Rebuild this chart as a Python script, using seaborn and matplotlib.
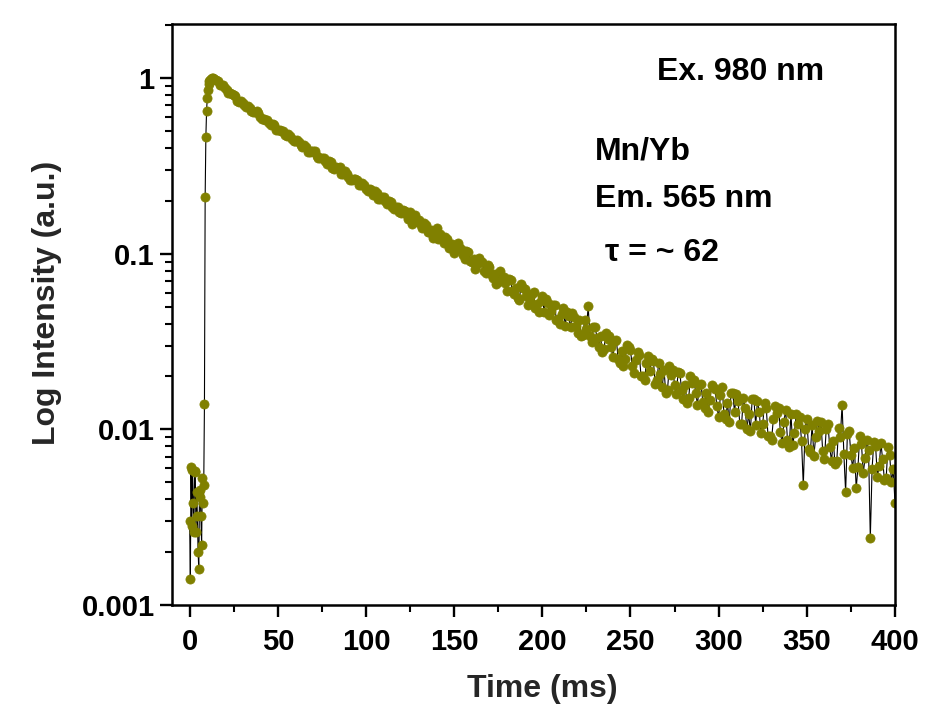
import matplotlib
matplotlib.use("Agg")
import matplotlib.pyplot as plt
import matplotlib.ticker as mticker
import numpy as np
import pandas as pd
import seaborn as sns

# ---- data (time in ms, normalised intensity) ----
rise_time = [0.0, 0.4, 0.8, 1.2, 1.6, 2.0, 2.4, 2.8, 3.2, 3.6, 4.0, 4.4, 4.8, 5.2,
             5.6, 6.0, 6.4, 6.8, 7.2, 7.6, 8.0, 8.4, 8.8, 9.2, 9.6, 10.0, 10.4,
             10.8, 11.2, 11.6, 12.0, 12.4, 13.0]
rise_intensity = [0.0030, 0.0014, 0.0061, 0.0028, 0.0059, 0.0038, 0.0026, 0.0058,
                  0.0057, 0.0026, 0.0044, 0.0032, 0.0020, 0.0016, 0.0045, 0.0041,
                  0.0032, 0.0022, 0.0053, 0.0038, 0.0048, 0.0139, 0.21, 0.46, 0.65,
                  0.77, 0.86, 0.92, 0.96, 0.98, 0.99, 1.0, 1.0]

# samples at even milliseconds, 14 ... 400 ms
even_time = [14, 16, 18, 20, 22, 24, 26, 28, 30, 32, 34, 36, 38, 40, 42, 44, 46, 48,
             50, 52, 54, 56, 58, 60, 62, 64, 66, 68, 70, 72, 74, 76, 78, 80, 82, 84,
             86, 88, 90, 92, 94, 96, 98, 100, 102, 104, 106, 108, 110, 112, 114, 116,
             118, 120, 122, 124, 126, 128, 130, 132, 134, 136, 138, 140, 142, 144,
             146, 148, 150, 152, 154, 156, 158, 160, 162, 164, 166, 168, 170, 172,
             174, 176, 178, 180, 182, 184, 186, 188, 190, 192, 194, 196, 198, 200,
             202, 204, 206, 208, 210, 212, 214, 216, 218, 220, 222, 224, 226, 228,
             230, 232, 234, 236, 238, 240, 242, 244, 246, 248, 250, 252, 254, 256,
             258, 260, 262, 264, 266, 268, 270, 272, 274, 276, 278, 280, 282, 284,
             286, 288, 290, 292, 294, 296, 298, 300, 302, 304, 306, 308, 310, 312,
             314, 316, 318, 320, 322, 324, 326, 328, 330, 332, 334, 336, 338, 340,
             342, 344, 346, 348, 350, 352, 354, 356, 358, 360, 362, 364, 366, 368,
             370, 372, 374, 376, 378, 380, 382, 384, 386, 388, 390, 392, 394, 396,
             398, 400]
even_intensity = [
    0.99, 0.96, 0.912, 0.881, 0.822, 0.813, 0.794, 0.733, 0.724, 0.684,
    0.676, 0.638, 0.646, 0.596, 0.582, 0.575, 0.537, 0.537, 0.507, 0.501,
    0.473, 0.479, 0.447, 0.437, 0.432, 0.403, 0.407, 0.380, 0.385, 0.359,
    0.351, 0.351, 0.324, 0.331, 0.305, 0.309, 0.285, 0.295, 0.272, 0.263,
    0.266, 0.245, 0.251, 0.232, 0.234, 0.216, 0.221, 0.204, 0.209, 0.191,
    0.197, 0.180, 0.184, 0.170, 0.176, 0.158, 0.148, 0.166, 0.155, 0.140,
    0.146, 0.132, 0.123, 0.140, 0.129, 0.115, 0.122, 0.108, 0.101, 0.115,
    0.107, 0.0933, 0.102, 0.0891, 0.0822, 0.0944, 0.0891, 0.0776, 0.0841, 0.0724,
    0.0676, 0.0794, 0.0741, 0.0617, 0.0708, 0.0589, 0.0562, 0.0676, 0.0631, 0.0513,
    0.0589, 0.0490, 0.0468, 0.0575, 0.0550, 0.0447, 0.0513, 0.0417, 0.0398, 0.0490,
    0.0468, 0.0380, 0.0437, 0.0355, 0.0339, 0.0417, 0.0501, 0.0316, 0.0380, 0.0295,
    0.0275, 0.0355, 0.0339, 0.0257, 0.0324, 0.0240, 0.0229, 0.0302, 0.0282, 0.0209,
    0.0275, 0.0200, 0.0191, 0.0263, 0.0251, 0.0182, 0.0240, 0.0174, 0.0162, 0.0229,
    0.0219, 0.0158, 0.0209, 0.0148, 0.0141, 0.0200, 0.0191, 0.0138, 0.0182, 0.0132,
    0.0126, 0.0178, 0.0170, 0.0117, 0.0174, 0.0115, 0.0110, 0.0162, 0.0158, 0.0107,
    0.0151, 0.0100, 0.00977, 0.0148, 0.0145, 0.00955, 0.0141, 0.00912, 0.00871, 0.0135,
    0.0132, 0.00832, 0.0129, 0.00794, 0.00813, 0.0123, 0.0117, 0.00479, 0.0115, 0.00741,
    0.00708, 0.0112, 0.0110, 0.00676, 0.0107, 0.00661, 0.00631, 0.0102, 0.0138, 0.0044,
    0.00977, 0.00603, 0.00462, 0.00912, 0.00562, 0.00871, 0.0024, 0.00851, 0.00537, 0.00832,
    0.00513, 0.00794, 0.00501, 0.0038]

# samples at odd milliseconds, 15 ... 399 ms
odd_time = [15, 17, 19, 21, 23, 25, 27, 29, 31, 33, 35, 37, 39, 41, 43, 45, 47, 49,
            51, 53, 55, 57, 59, 61, 63, 65, 67, 69, 71, 73, 75, 77, 79, 81, 83, 85,
            87, 89, 91, 93, 95, 97, 99, 101, 103, 105, 107, 109, 111, 113, 115, 117,
            119, 121, 123, 125, 127, 129, 131, 133, 135, 137, 139, 141, 143, 145,
            147, 149, 151, 153, 155, 157, 159, 161, 163, 165, 167, 169, 171, 173,
            175, 177, 179, 181, 183, 185, 187, 189, 191, 193, 195, 197, 199, 201,
            203, 205, 207, 209, 211, 213, 215, 217, 219, 221, 223, 225, 227, 229,
            231, 233, 235, 237, 239, 241, 243, 245, 247, 249, 251, 253, 255, 257,
            259, 261, 263, 265, 267, 269, 271, 273, 275, 277, 279, 281, 283, 285,
            287, 289, 291, 293, 295, 297, 299, 301, 303, 305, 307, 309, 311, 313,
            315, 317, 319, 321, 323, 325, 327, 329, 331, 333, 335, 337, 339, 341,
            343, 345, 347, 349, 351, 353, 355, 357, 359, 361, 363, 365, 367, 369,
            371, 373, 375, 377, 379, 381, 383, 385, 387, 389, 391, 393, 395, 397,
            399]
odd_intensity = [
    0.968, 0.908, 0.910, 0.857, 0.818, 0.805, 0.740, 0.738, 0.702, 0.692,
    0.649, 0.637, 0.630, 0.585, 0.578, 0.552, 0.546, 0.509, 0.506, 0.502,
    0.469, 0.465, 0.439,
    0.446, 0.416, 0.415, 0.380, 0.384, 0.383, 0.352, 0.352, 0.337, 0.336,
    0.308, 0.311, 0.310, 0.285, 0.285, 0.264, 0.265, 0.262, 0.245, 0.245,
    0.228, 0.229, 0.227, 0.206, 0.209, 0.199, 0.200, 0.185, 0.184, 0.172,
    0.177, 0.165, 0.172, 0.151, 0.153, 0.145, 0.149, 0.132, 0.136, 0.135,
    0.122, 0.123, 0.125, 0.108, 0.114, 0.107, 0.109, 0.0984, 0.104, 0.0904,
    0.0931, 0.0871, 0.0891, 0.0800, 0.0859, 0.0771, 0.0762, 0.0693, 0.0729, 0.0682,
    0.0713, 0.0610, 0.0641, 0.0548, 0.0640, 0.0574, 0.0535, 0.0605, 0.0520, 0.0537,
    0.0467, 0.0521, 0.0473, 0.0511, 0.0423, 0.0452, 0.0388, 0.0440, 0.0459, 0.0385,
    0.0417, 0.0346, 0.0374, 0.0340, 0.0381, 0.0333, 0.0342, 0.0285, 0.0328, 0.0296,
    0.0320, 0.0251, 0.0281, 0.0251, 0.0295, 0.0229, 0.0247, 0.0265, 0.0200, 0.0238,
    0.0214, 0.0246, 0.0192, 0.0207, 0.0219, 0.0168, 0.0205, 0.0179, 0.0211, 0.0167,
    0.0179, 0.0150, 0.0184, 0.0161, 0.0179, 0.0143, 0.0162, 0.0147, 0.0175, 0.0135,
    0.0156, 0.0122, 0.0141, 0.0160, 0.0125, 0.0145, 0.0107, 0.0132, 0.0122, 0.0148,
    0.0106, 0.0126, 0.0107, 0.0133, 0.00918, 0.0114, 0.0124, 0.00966, 0.0110, 0.00875,
    0.0122, 0.00957, 0.0107, 0.00853, 0.0101, 0.00776, 0.0106, 0.00902, 0.00982, 0.00752,
    0.0101, 0.00789, 0.00861, 0.00661, 0.00906, 0.00724, 0.00946, 0.00719, 0.00780, 0.00610,
    0.00820, 0.00684, 0.00762, 0.00597, 0.00802, 0.00617, 0.00675, 0.00530, 0.00713, 0.00596]

y_ticks = [0.001, 0.01, 0.1, 1]
y_tick_labels = ["0.001", "0.01", "0.1", "1"]
x_ticks = [0, 50, 100, 150, 200, 250, 300, 350, 400]

annotations = ["Ex. 980 nm", "Mn/Yb", "Em. 565 nm", "\u03c4 = ~ 62"]

df = pd.DataFrame({
    "time": rise_time + even_time + odd_time,
    "intensity": rise_intensity + even_intensity + odd_intensity,
}).sort_values("time").reset_index(drop=True)

# ---- style ----
sns.set_style("ticks")
plt.rcParams["font.family"] = ["Liberation Sans", "DejaVu Sans"]
plt.rcParams["font.weight"] = "bold"

OLIVE = "#808000"

fig = plt.figure(figsize=(9.31, 7.13), dpi=100)
ax = fig.add_axes([172 / 931, 108 / 713, 723 / 931, 581 / 713])

sns.lineplot(data=df, x="time", y="intensity", ax=ax, sort=False,
             color="black", linewidth=0.8, marker="o", markersize=6.6,
             markerfacecolor=OLIVE, markeredgecolor=OLIVE, markeredgewidth=0.5,
             estimator=None)

ax.set_yscale("log")
ax.set_xlim(-10, 400)
ax.set_ylim(0.001, 2.03)

ax.set_xticks(x_ticks)
ax.set_xticklabels([str(v) for v in x_ticks])
ax.xaxis.set_minor_locator(mticker.MultipleLocator(25))
ax.set_yticks(y_ticks)
ax.set_yticklabels(y_tick_labels)
ax.yaxis.set_minor_locator(mticker.LogLocator(base=10, subs=np.arange(2, 10)))
ax.yaxis.set_minor_formatter(mticker.NullFormatter())

for s in ax.spines.values():
    s.set_linewidth(1.8)
    s.set_color("black")

ax.tick_params(axis="both", which="major", direction="out", length=8.5, width=1.7,
               colors="black", top=False, right=False)
ax.tick_params(axis="both", which="minor", direction="out", length=5, width=1.5,
               colors="black", top=False, right=False)
ax.tick_params(axis="y", which="major", labelsize=21, pad=4)
ax.tick_params(axis="x", which="major", labelsize=21, pad=8)
for lab in ax.get_xticklabels() + ax.get_yticklabels():
    lab.set_fontweight("bold")

ax.set_xlabel("Time (ms)", fontsize=23, fontweight="bold")
ax.set_ylabel("Log Intensity (a.u.)", fontsize=23, fontweight="bold")
ax.xaxis.set_label_coords(0.512, -0.118)
ax.yaxis.set_label_coords(-0.152, 0.52)

fig.patch.set_facecolor("white")
ax.set_facecolor("white")

txt_kw = dict(transform=ax.transAxes, fontsize=23, fontweight="bold",
              ha="left", va="baseline", color="black")
ax.text(0.671, 0.904, annotations[0], **txt_kw)
ax.text(0.585, 0.766, annotations[1], **txt_kw)
ax.text(0.585, 0.685, annotations[2], **txt_kw)
ax.text(0.599, 0.592, annotations[3], **txt_kw)

fig.savefig("out.png", dpi=100, facecolor="white")
